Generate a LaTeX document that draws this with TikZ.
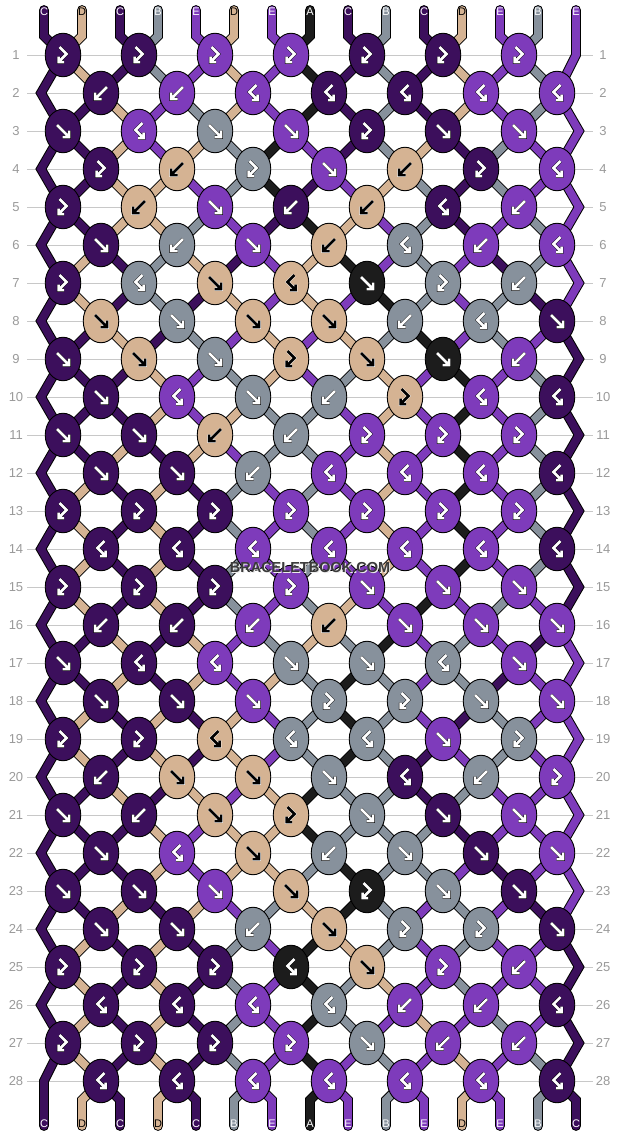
\documentclass[tikz,border=0pt]{standalone}
\usepackage{fontspec}
\setmainfont{Liberation Sans}
\usetikzlibrary{shapes.geometric}
\definecolor{sC}{HTML}{3C0F5C}
\definecolor{sD}{HTML}{D5B393}
\definecolor{sB}{HTML}{87919C}
\definecolor{sE}{HTML}{7E3BBB}
\definecolor{sA}{HTML}{1C1C1C}
\colorlet{tC}{white}\colorlet{tD}{black}\colorlet{tB}{white}\colorlet{tE}{white}\colorlet{tA}{white}
\colorlet{aC}{white}\colorlet{aD}{black}\colorlet{aB}{white}\colorlet{aE}{white}\colorlet{aA}{white}
\colorlet{oC}{black}\colorlet{oD}{white}\colorlet{oB}{black}\colorlet{oE}{black}\colorlet{oA}{black}
\colorlet{curfg}{white}\colorlet{curbg}{black}
\definecolor{rowgray}{HTML}{C8C8C8}
\definecolor{numgray}{HTML}{9A9A9A}
\definecolor{wmgray}{HTML}{3A3A3A}
\def\gF{(-6,-6)--(6,6) (6,-0.5)--(6,6)--(-0.5,6)}
\def\gB{(6,-6)--(-6,6) (-6,-0.5)--(-6,6)--(0.5,6)}
\def\gFB{(-3.5,-8)--(3.5,-1)--(-4.5,7) (-4.5,1.5)--(-4.5,7)--(1,7)}
\def\gBF{(3.5,-8)--(-3.5,-1)--(4.5,7) (4.5,1.5)--(4.5,7)--(-1,7)}
\tikzset{
  outline/.style={line width=9.8, draw=black, line cap=round, line join=miter},
  strand/.style={line width=7.8, line cap=round, line join=miter},
  knot/.style={ellipse, draw=black, line width=0.9, minimum width=35.5, minimum height=43.5, inner sep=0},
  arrfg/.style={draw=curfg, line width=2.5, line cap=butt, line join=miter},
  arrbg/.style={draw=curbg, line width=3.5, line cap=butt, line join=miter},
  rowline/.style={draw=rowgray, line width=1},
  rownum/.style={text=numgray, font=\fontsize{13}{15}\selectfont, inner sep=0},
  lab/.style={font=\fontsize{11}{13}\selectfont, inner sep=0},
  wm/.style={font=\bfseries\fontsize{14.5}{16}\selectfont, text=wmgray, inner sep=0},
  pics/gf/.style={code={\draw[arrbg] \gF; \draw[arrfg] \gF;}},
  pics/gb/.style={code={\draw[arrbg] \gB; \draw[arrfg] \gB;}},
  pics/gfb/.style={code={\draw[arrbg] \gFB; \draw[arrfg] \gFB;}},
  pics/gbf/.style={code={\draw[arrbg] \gBF; \draw[arrfg] \gBF;}},
}
\begin{document}
\begin{tikzpicture}[x=1pt,y=-1pt]
\useasboundingbox (0,0) rectangle (620,1136);
\fill[white] (0,0) rectangle (620,1136);
% grid rows, knot positions
\foreach \r in {1,...,28}{
  \pgfmathsetmacro{\yy}{17+38*\r}
  \pgfmathsetmacro{\xo}{101-38*mod(\r,2)}
  \foreach \j in {0,...,6}{\coordinate (k-\r-\j) at (\xo+76*\j,\yy);}
  \coordinate (lv-\r) at (41,\yy);
  \coordinate (rv-\r) at (579,\yy);
  \draw[rowline] (27,\yy) -- (593,\yy);
  \node[rownum] (ln-\r) at (16,\yy) {\r};
  \node[rownum] (rn-\r) at (603,\yy) {\r};
}
\foreach \p in {1,...,15}{
  \pgfmathsetmacro{\xl}{6+38*\p}
  \coordinate (tp-\p) at (\xl,10);
  \coordinate (tb-\p) at (\xl,36);
  \coordinate (bb-\p) at (\xl,1100);
  \coordinate (bp-\p) at (\xl,1126);
}
\coordinate (tb-15) at (576,55);
\coordinate (bb-1) at (44,1081);
% strings
\foreach \pass in {0,1}{
 \foreach \r/\st in {
  0/{C,D,C,B,E,D,E,A,C,B,C,D,E,B,E},
  1/{C,D,C,B,E,D,E,A,C,B,C,D,E,B,E},
  2/{C,C,D,E,B,D,E,A,C,B,C,D,E,B,E},
  3/{C,C,D,E,D,B,A,E,C,B,D,C,B,E,E},
  4/{C,C,D,D,E,B,A,C,E,D,B,C,B,E,E},
  5/{C,C,D,D,B,E,C,A,D,E,B,C,E,B,E},
  6/{C,D,C,B,D,C,E,D,A,E,B,E,C,B,E},
  7/{C,D,C,B,C,D,E,D,E,A,B,E,B,C,E},
  8/{C,C,D,C,B,E,D,E,D,B,A,E,B,E,C},
  9/{C,C,C,D,E,B,D,E,B,D,E,A,E,B,C},
  10/{C,C,C,D,E,D,B,B,E,D,E,A,E,B,C},
  11/{C,C,D,C,D,E,B,B,E,D,E,A,E,B,C},
  12/{C,D,C,D,C,B,E,B,E,D,E,A,E,B,C},
  13/{C,D,C,D,C,B,E,B,E,D,E,A,E,B,C},
  14/{C,D,C,D,C,B,E,B,E,D,E,A,E,B,C},
  15/{C,D,C,D,C,B,E,B,D,E,A,E,B,E,C},
  16/{C,C,D,C,D,E,B,D,B,A,E,B,E,C,E},
  17/{C,C,D,C,D,E,D,B,A,B,E,B,C,E,E},
  18/{C,D,C,D,C,D,E,B,A,B,E,C,B,E,E},
  19/{C,D,C,D,C,D,E,B,A,B,C,E,B,E,E},
  20/{C,C,D,C,D,E,D,A,B,B,C,B,E,E,E},
  21/{C,C,C,D,E,D,D,A,B,B,B,C,E,E,E},
  22/{C,C,C,D,E,D,D,B,A,B,B,E,C,E,E},
  23/{C,C,D,C,D,E,B,D,A,B,E,B,E,C,E},
  24/{C,D,C,D,C,B,E,A,D,B,E,B,E,E,C},
  25/{C,D,C,D,C,B,E,A,B,D,E,B,E,E,C},
  26/{C,D,C,D,C,B,E,A,B,E,D,E,B,E,C},
  27/{C,D,C,D,C,B,E,A,E,B,E,D,E,B,C},
  28/{C,D,C,D,C,B,E,A,E,B,E,D,E,B,C}}{
  \pgfmathtruncatemacro{\rn}{\r+1}
  \pgfmathtruncatemacro{\rnn}{\r+2}
  \foreach \c [count=\p] in \st {
   \pgfmathtruncatemacro{\jo}{(\p-1)/2}
   \pgfmathtruncatemacro{\je}{(\p-2)/2}
   \pgfmathsetmacro{\xl}{6+38*\p}
   \ifnum\pass=0 \tikzset{cur/.style={outline}}\else\tikzset{cur/.style={strand,draw=s\c}}\fi
   \ifnum\r=0
     \ifnum\p<15 \draw[cur] (tp-\p) -- (tb-\p) -- (k-1-\jo);
     \else \draw[cur] (tp-15) -- (tb-15) -- (k-2-6);
     \fi
     \ifnum\pass=1 \node[lab,text=t\c] (tl-\p) at (\xl,12) {\c};\fi
   \else
    \ifnum\r=28
     \ifnum\p>1 \draw[cur] (k-28-\je) -- (bb-\p) -- (bp-\p);\fi
     \ifnum\pass=1 \node[lab,text=t\c] (bl-\p) at (\xl,1124) {\c};\fi
    \else
     \ifnum\p>1 \ifnum\p<15
       \ifodd\r\relax \draw[cur] (k-\r-\jo) -- (k-\rn-\je);
       \else \draw[cur] (k-\r-\je) -- (k-\rn-\jo);
       \fi
     \fi\fi
     \ifnum\p=1 \ifodd\r\relax
       \ifnum\r<27 \draw[cur] (k-\r-0) -- (lv-\rn) -- (k-\rnn-0);
       \else \draw[cur] (k-27-0) -- (bb-1) -- (bp-1);
       \fi
     \fi\fi
     \ifnum\p=15 \ifodd\r\relax\else
       \draw[cur] (k-\r-6) -- (rv-\rn) -- (k-\rnn-6);
     \fi\fi
    \fi
   \fi
  }
 }
}
% knots
\foreach \r/\row in {
 1/{C/fb,C/fb,E/fb,E/fb,C/fb,C/fb,E/fb},
 2/{C/b,E/b,E/bf,C/bf,C/bf,E/bf,E/bf},
 3/{C/f,E/bf,B/f,E/f,C/fb,C/f,E/f},
 4/{C/fb,D/b,B/fb,E/f,D/b,C/fb,E/bf},
 5/{C/fb,D/b,E/f,C/b,D/b,C/bf,E/b},
 6/{C/f,B/b,E/f,D/b,B/bf,E/b,E/bf},
 7/{C/fb,B/bf,D/f,D/bf,A/f,B/fb,B/b},
 8/{D/f,B/f,D/f,D/f,B/b,B/bf,C/f},
 9/{C/f,D/f,B/f,D/fb,D/f,A/f,E/b},
 10/{C/f,E/bf,B/f,B/b,D/fb,E/bf,C/bf},
 11/{C/f,C/f,D/b,B/b,E/fb,E/fb,E/fb},
 12/{C/f,C/f,B/b,E/bf,E/bf,E/bf,C/bf},
 13/{C/fb,C/fb,C/fb,E/fb,E/fb,E/fb,E/fb},
 14/{C/bf,C/bf,E/bf,E/bf,E/bf,E/bf,C/bf},
 15/{C/fb,C/fb,C/fb,E/fb,E/f,E/f,E/f},
 16/{C/b,C/b,E/b,D/b,E/f,E/f,E/f},
 17/{C/f,C/bf,E/bf,B/f,B/f,B/bf,E/f},
 18/{C/f,C/f,E/f,B/fb,B/fb,B/f,E/f},
 19/{C/fb,C/fb,D/bf,B/bf,B/bf,E/f,B/fb},
 20/{C/b,D/f,D/f,B/f,C/bf,B/b,E/fb},
 21/{C/f,C/b,D/f,D/fb,B/f,C/f,E/f},
 22/{C/f,E/bf,D/f,B/b,B/f,C/f,E/f},
 23/{C/f,C/f,E/f,D/f,A/fb,B/f,C/f},
 24/{C/f,C/f,B/b,D/f,B/fb,B/fb,C/f},
 25/{C/fb,C/fb,C/fb,A/bf,D/f,E/fb,E/b},
 26/{C/bf,C/bf,E/bf,B/bf,E/b,E/b,C/bf},
 27/{C/fb,C/fb,C/fb,E/fb,B/f,E/b,E/b},
 28/{C/bf,C/bf,E/bf,E/bf,E/bf,E/bf,C/bf}}{
  \foreach \c/\t [count=\jj from 0] in \row {
    \node[knot,fill=s\c] (K-\r-\jj) at (k-\r-\jj) {};
    \colorlet{curfg}{a\c}\colorlet{curbg}{o\c}
    \pic at (k-\r-\jj) {g\t};
  }
}
% watermark
\node[wm,text=white!85!gray] at (311,568) {BRACELETBOOK.COM};
\node[wm] (wm) at (310,567) {BRACELETBOOK.COM};
\end{tikzpicture}
\end{document}
